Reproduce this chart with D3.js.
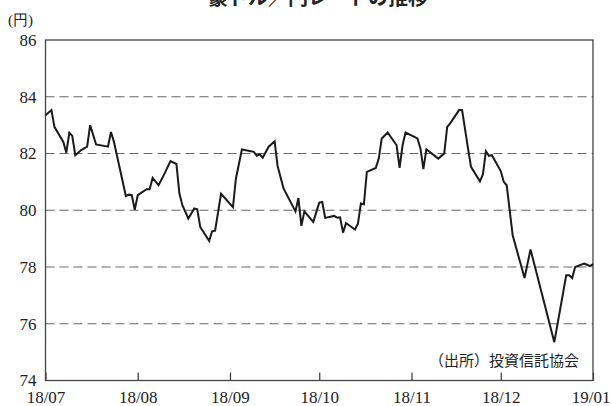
<!DOCTYPE html>
<html>
<head>
<meta charset="utf-8">
<script src="https://cdn.jsdelivr.net/npm/d3@7"></script>
<style>
  body { margin: 0; background: #fff; }
  svg { display: block; }
  .serif { font-family: "Liberation Serif", "DejaVu Serif", serif; }
  .cjk { font-family: "Noto Sans CJK JP", sans-serif; }
</style>
</head>
<body>
<figure id="chart_view" style="margin:0"></figure>
<script>
// AUD/JPY rate, Jul 2018 - Jan 2019
const dates = [
  "2018-07-01","2018-07-03","2018-07-04","2018-07-07","2018-07-08","2018-07-09","2018-07-10","2018-07-11",
  "2018-07-13","2018-07-15","2018-07-16","2018-07-18","2018-07-22","2018-07-23","2018-07-24","2018-07-28",
  "2018-07-29","2018-07-30","2018-07-31","2018-08-01","2018-08-04","2018-08-05","2018-08-06","2018-08-08",
  "2018-08-10","2018-08-12","2018-08-14","2018-08-15","2018-08-16","2018-08-18","2018-08-20","2018-08-21",
  "2018-08-22","2018-08-25","2018-08-26","2018-08-27","2018-08-29","2018-09-02","2018-09-03","2018-09-05",
  "2018-09-09","2018-09-10","2018-09-11","2018-09-12","2018-09-14","2018-09-16","2018-09-17","2018-09-19",
  "2018-09-23","2018-09-24","2018-09-25","2018-09-26","2018-09-29","2018-10-01","2018-10-02","2018-10-03",
  "2018-10-06","2018-10-07","2018-10-08","2018-10-09","2018-10-10","2018-10-13","2018-10-14","2018-10-15",
  "2018-10-16","2018-10-17","2018-10-20","2018-10-21","2018-10-22","2018-10-24","2018-10-27","2018-10-28",
  "2018-10-29","2018-10-30","2018-11-03","2018-11-04","2018-11-05","2018-11-06","2018-11-10","2018-11-12",
  "2018-11-13","2018-11-14","2018-11-17","2018-11-18","2018-11-20","2018-11-21","2018-11-24","2018-11-25",
  "2018-11-26","2018-11-27","2018-11-28","2018-12-01","2018-12-02","2018-12-03","2018-12-05","2018-12-09",
  "2018-12-11","2018-12-19","2018-12-22","2018-12-23","2018-12-24","2018-12-25","2018-12-26","2018-12-29",
  "2018-12-30","2018-12-31","2019-01-01"
];
const rates = [
  83.35, 83.53, 82.94, 82.41, 82.03, 82.73, 82.62, 81.94,
  82.12, 82.24, 83.00, 82.32, 82.24, 82.76, 82.41, 80.50,
  80.55, 80.53, 80.02, 80.53, 80.74, 80.74, 81.14, 80.88,
  81.29, 81.73, 81.63, 80.59, 80.18, 79.71, 80.06, 80.03,
  79.41, 78.92, 79.26, 79.28, 80.58, 80.11, 81.12, 82.14,
  82.06, 81.92, 81.97, 81.85, 82.24, 82.43, 81.56, 80.77,
  79.96, 80.43, 79.45, 79.96, 79.59, 80.27, 80.29, 79.73,
  79.80, 79.74, 79.75, 79.21, 79.55, 79.32, 79.53, 80.24,
  80.21, 81.35, 81.49, 81.82, 82.53, 82.74, 82.29, 81.49,
  82.29, 82.74, 82.53, 82.18, 81.45, 82.15, 81.82, 82.00,
  82.94, 83.06, 83.53, 83.53, 82.18, 81.53, 81.02, 81.26,
  82.08, 81.92, 81.94, 81.38, 81.00, 80.88, 79.12, 77.61,
  78.62, 75.35, 77.12, 77.71, 77.71, 77.61, 78.00, 78.12,
  78.08, 78.03, 78.10
];
const yTicks = [74, 76, 78, 80, 82, 84, 86];
const xTickDates = ["2018-07-01","2018-08-01","2018-09-01","2018-10-01","2018-11-01","2018-12-01","2019-01-01"];
const xTickLabels = ["18/07","18/08","18/09","18/10","18/11","18/12","19/01"];

const title = "豪ドル／円レートの推移";
const unitLabel = "(円)";
const sourceNote = "（出所）投資信託協会";

const width = 612;
const height = 406;
const margin = { top: 40, right: 19, bottom: 25.5, left: 45.5 };

const parse = d3.timeParse("%Y-%m-%d");
const data = dates.map((d, i) => ({ date: parse(d), value: rates[i] }));

const svg = d3.select("figure#chart_view")
  .append("svg")
  .attr("width", width)
  .attr("height", height);

const x = d3.scaleTime()
  .domain([parse(xTickDates[0]), parse(xTickDates[xTickDates.length - 1])])
  .range([margin.left, width - margin.right]);

const y = d3.scaleLinear()
  .domain([74, 86])
  .range([height - margin.bottom, margin.top]);

// title (top is cut off in the original)
svg.append("text")
  .attr("class", "cjk")
  .attr("x", 318)
  .attr("y", 5)
  .attr("text-anchor", "middle")
  .attr("font-weight", "bold")
  .attr("font-size", 20)
  .attr("fill", "#222")
  .text(title);

svg.append("text")
  .attr("class", "serif")
  .attr("x", 8)
  .attr("y", 25)
  .attr("font-size", 15)
  .attr("fill", "#222")
  .text(unitLabel);

// dashed grid lines
svg.append("g")
  .selectAll("line")
  .data(yTicks.slice(1, -1))
  .join("line")
  .attr("x1", margin.left)
  .attr("x2", width - margin.right)
  .attr("y1", d => y(d))
  .attr("y2", d => y(d))
  .attr("stroke", "#666")
  .attr("stroke-width", 1.2)
  .attr("stroke-dasharray", "9,5");

// y axis labels
svg.append("g")
  .attr("transform", `translate(${margin.left},0)`)
  .call(d3.axisLeft(y).tickValues(yTicks).tickSize(0).tickPadding(9).tickFormat(d3.format("d")))
  .call(g => g.select(".domain").remove())
  .call(g => g.selectAll("text")
    .attr("class", "serif")
    .attr("font-size", 17)
    .attr("fill", "#222"));

// x axis: ticks point inward
const xAxis = svg.append("g")
  .attr("transform", `translate(0,${height - margin.bottom})`)
  .call(d3.axisBottom(x)
    .tickValues(xTickDates.map(parse))
    .tickSize(-8)
    .tickPadding(10)
    .tickFormat((d, i) => xTickLabels[i]));
xAxis.select(".domain").remove();
xAxis.selectAll("line").attr("stroke", "#333").attr("stroke-width", 1.2);
xAxis.selectAll("text")
  .attr("class", "serif")
  .attr("font-size", 17)
  .attr("fill", "#222");
// last label sits against the right edge
xAxis.selectAll("text")
  .filter((d, i) => i === xTickLabels.length - 1)
  .attr("text-anchor", "end")
  .attr("x", 17);

// frame
svg.append("rect")
  .attr("x", margin.left)
  .attr("y", margin.top)
  .attr("width", width - margin.left - margin.right)
  .attr("height", height - margin.top - margin.bottom)
  .attr("fill", "none")
  .attr("stroke", "#444")
  .attr("stroke-width", 1.3);

// rate line
const line = d3.line()
  .x(d => x(d.date))
  .y(d => y(d.value));

svg.append("path")
  .datum(data)
  .attr("d", line)
  .attr("fill", "none")
  .attr("stroke", "#1a1a1a")
  .attr("stroke-width", 2)
  .attr("stroke-linejoin", "miter");

svg.append("text")
  .attr("class", "cjk")
  .attr("x", 579)
  .attr("y", 366)
  .attr("text-anchor", "end")
  .attr("font-size", 15)
  .attr("fill", "#222")
  .text(sourceNote);
</script>
</body>
</html>
